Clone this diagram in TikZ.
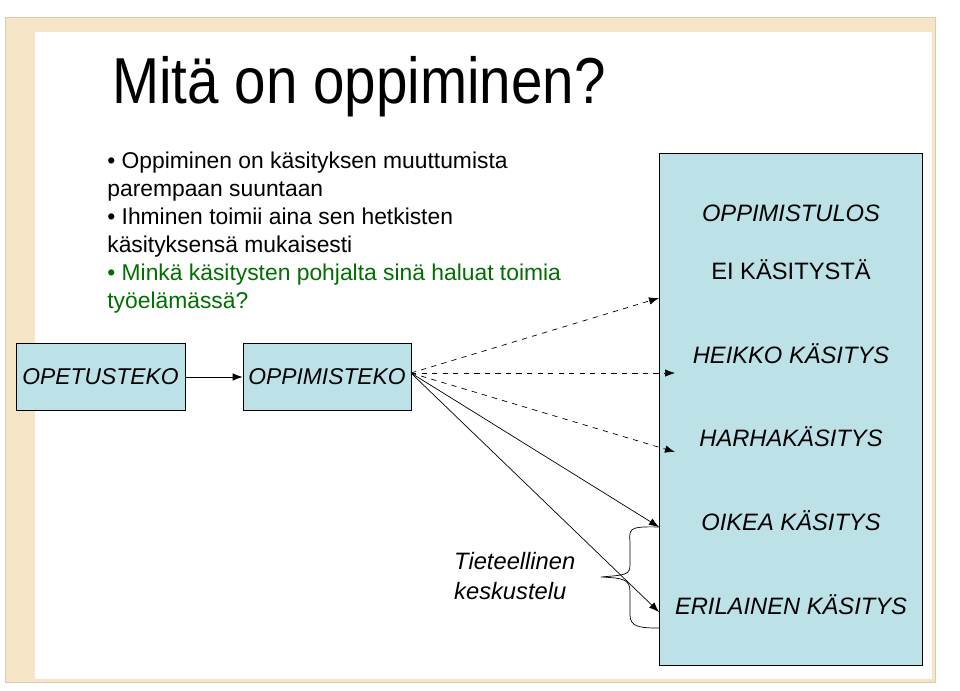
\documentclass[tikz,border=0pt]{standalone}
\usepackage{fontspec}
\setmainfont{Liberation Sans}
\usetikzlibrary{arrows.meta}
\definecolor{boxblue}{RGB}{188,225,230}
\definecolor{frametan}{RGB}{240,210,160}
\definecolor{textgreen}{RGB}{0,110,0}
\tikzstyle{block} = [draw, fill=boxblue, rectangle, inner sep=0pt, font={\fontsize{13pt}{15}\selectfont\itshape}]
\tikzstyle{result} = [font={\fontsize{13.5pt}{16}\selectfont\itshape}]
\begin{document}
\begin{tikzpicture}[x=0.02cm, y=-0.02cm, >={Latex[length=2mm]}]
    \useasboundingbox (0,0) rectangle (960,690);
    % slide frame
    \fill[white] (0,0) rectangle (960,690);
    \fill[frametan!60] (5,17) rectangle (935,682);
    \fill[white] (35,32) rectangle (932,679);
    \draw[frametan!80!black!60] (5,17) rectangle (935,682);
    \node[anchor=base west, font={\fontsize{37pt}{40}\selectfont}] (title) at (106,103) {\scalebox{0.87}[1]{Mitä on oppiminen?}};
    \begin{scope}[every node/.style={anchor=base west, font={\fontsize{13pt}{15}\selectfont}, inner sep=0pt}]
      \node (l1) at (107,168) {\textbullet\ Oppiminen on käsityksen muuttumista};
      \node (l2) at (107,196) {parempaan suuntaan};
      \node (l3) at (107,224) {\textbullet\ Ihminen toimii aina sen hetkisten};
      \node (l4) at (107,252) {käsityksensä mukaisesti};
      \node[text=textgreen] (l5) at (107,280) {\textbullet\ Minkä käsitysten pohjalta sinä haluat toimia};
      \node[text=textgreen] (l6) at (107,308) {työelämässä?};
    \end{scope}
    \node [block, minimum width=3.38cm, minimum height=1.34cm] (opetus) at (100.5,376.5) {OPETUSTEKO};
    \node [block, minimum width=3.36cm, minimum height=1.34cm] (oppimis) at (327,376.5) {OPPIMISTEKO};
    \node [block, minimum width=5.26cm, minimum height=10.24cm] (tulos) at (790.5,409) {};
    \node [result] (otsikko) at (791,213) {OPPIMISTULOS};
    \node [result, font={\fontsize{13.5pt}{16}\selectfont}] (ei) at (791,270) {EI KÄSITYSTÄ};
    \node [result] (heikko) at (791,354) {HEIKKO KÄSITYS};
    \node [result] (harha) at (791,437) {HARHAKÄSITYS};
    \node [result] (oikea) at (791,521) {OIKEA KÄSITYS};
    \node [result] (erilainen) at (791,605) {ERILAINEN KÄSITYS};
    \node [result, align=left, anchor=west, font={\fontsize{13.5pt}{17}\selectfont\itshape}] (tiede) at (448,576) {Tieteellinen\\keskustelu};
    \coordinate (lahto) at (411,373);
    \coordinate (k1) at (659,298);
    \coordinate (k2) at (675,373);
    \coordinate (k3) at (675,452);
    \coordinate (k4) at (659,527);
    \coordinate (k5) at (659,612);
    \draw [->] (opetus.east |- 0,377) -- (oppimis.west |- 0,377);
    \draw [->, dashed] (lahto) -- (k1);
    \draw [->, dashed] (lahto) -- (k2);
    \draw [->, dashed] (lahto) -- (k3);
    \draw [->] (lahto) -- (k4);
    \draw [->] (lahto) -- (k5);
    % brace
    \draw (659,527) .. controls (625,526) and (630,530) .. (630,545)
      -- (630,565) .. controls (630,575) and (625,575) .. (601,577)
      .. controls (625,578) and (630,580) .. (630,592)
      -- (630,615) .. controls (630,627) and (640,628) .. (659,628);
\end{tikzpicture}
\end{document}
